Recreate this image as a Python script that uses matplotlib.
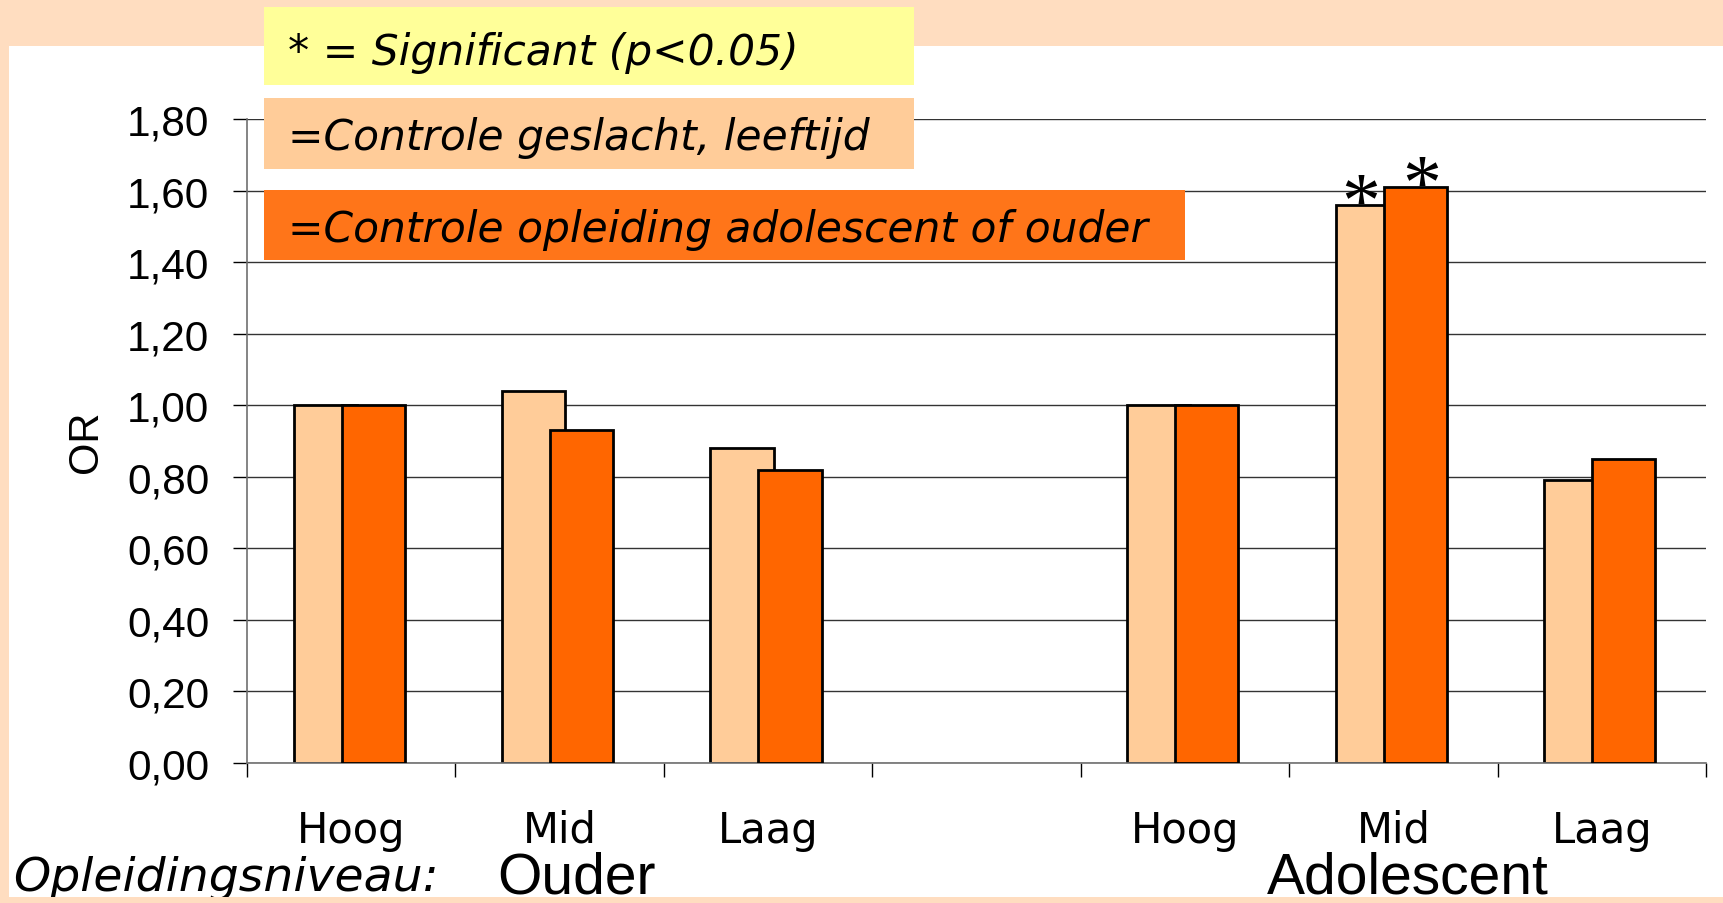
import numpy as np
import matplotlib.pyplot as plt
from matplotlib.patches import Rectangle

plt.rcParams['font.family'] = ['Liberation Sans', 'DejaVu Sans']

# Odds ratios per opleidingsniveau (Ouder: Hoog/Mid/Laag, Adolescent: Hoog/Mid/Laag)
levels = ['Hoog', 'Mid', 'Laag']
groups = ['Ouder', 'Adolescent']
or_sex_age = [1.00, 1.04, 0.88, 1.00, 1.56, 0.79]
or_education = [1.00, 0.93, 0.82, 1.00, 1.61, 0.85]
sig_sex_age = [False, False, False, False, True, False]
sig_education = [False, False, False, False, True, False]
slots = [0, 1, 2, 4, 5, 6]   # vak 3 blijft leeg tussen de groepen
yticks = [0.0, 0.2, 0.4, 0.6, 0.8, 1.0, 1.2, 1.4, 1.6, 1.8]

legend_texts = ['* = Significant (p<0.05)',
                '=Controle geslacht, leeftijd',
                '=Controle opleiding adolescent of ouder']

W, H = 1724, 904
PEACH = '#FFDDC0'
LIGHT = '#FFCC99'
DARK = '#FF6600'
WIDE = ['DejaVu Sans']   # breed lettertype, lijkt op Verdana


def fx(x):
    return x / W


def fy(y):
    return 1 - y / H


fig = plt.figure(figsize=(W / 100, H / 100), dpi=100, facecolor=PEACH)

# wit vlak van de dia
fig.add_artist(Rectangle((fx(9), fy(898)), 1 - fx(9), fy(47) - fy(898),
                         transform=fig.transFigure, facecolor='white',
                         edgecolor='none', zorder=-5))

ax = fig.add_axes([fx(247), fy(764), fx(1706) - fx(247), fy(120) - fy(764)])
ax.set_facecolor('white')

x = np.array(slots) + 0.5
bw = 0.303
ax.bar(x - 0.125, or_sex_age, width=bw, color=LIGHT, edgecolor='black',
       linewidth=2, zorder=2)
ax.bar(x + 0.105, or_education, width=bw, color=DARK, edgecolor='black',
       linewidth=2, zorder=3)

# sterretjes voor significantie
for xi, v, s in zip(x - 0.125, or_sex_age, sig_sex_age):
    if s:
        ax.text(xi - 0.03, v - 0.055, '*', family='Liberation Serif', fontsize=56,
                ha='center', va='baseline', zorder=5)
for xi, v, s in zip(x + 0.105, or_education, sig_education):
    if s:
        ax.text(xi + 0.03, v - 0.055, '*', family='Liberation Serif', fontsize=56,
                ha='center', va='baseline', zorder=5)

ax.set_xlim(0, 7)
ax.set_ylim(0, 1.8)
ax.set_yticks(yticks)
ax.set_yticklabels([f'{v:.2f}'.replace('.', ',') for v in yticks])
ax.set_xticks(x)
ax.set_xticklabels(levels * 2, family=WIDE)
ax.set_xticks(range(8), minor=True)
ax.tick_params(axis='x', which='major', length=0, pad=33, labelsize=30)
ax.tick_params(axis='x', which='minor', length=10, width=1, color='black')
ax.tick_params(axis='y', length=10, width=1, pad=17, labelsize=30.5)
ax.grid(axis='y', color='#333333', lw=1)
ax.set_axisbelow(True)
for side in ['top', 'right']:
    ax.spines[side].set_visible(False)
for side in ['left', 'bottom']:
    ax.spines[side].set_color('#707070')
    ax.spines[side].set_linewidth(1.2)

ax.set_ylabel('OR', fontsize=30, va='center')
ax.yaxis.set_label_coords((86 - 247) / (1706 - 247), 0.5)

# groepsnamen onder de as
tr = ax.get_xaxis_transform()
ya = (764 - 894) / (764 - 120)
ax.text(x[1] + 0.08, ya, groups[0], transform=tr, fontsize=41,
        ha='center', va='baseline', clip_on=False)
ax.text(x[4] + 0.07, ya, groups[1], transform=tr, fontsize=41,
        ha='center', va='baseline', clip_on=False)
fig.text(fx(13), fy(891), 'Opleidingsniveau:', fontsize=34, style='italic',
         family=WIDE, va='baseline')

# legenda-blokken
boxes = [(264, 8, 914, 86, '#FFFF99', 65),
         (264, 99, 914, 170, LIGHT, 150),
         (264, 191, 1185, 261, '#FF7519', 242)]
for (x0, y0, x1, y1, col, base), txt in zip(boxes, legend_texts):
    fig.add_artist(Rectangle((fx(x0), fy(y1)), fx(x1) - fx(x0), fy(y0) - fy(y1),
                             transform=fig.transFigure, facecolor=col,
                             edgecolor='none', zorder=4))
    fig.text(fx(288), fy(base), txt, fontsize=30.5, style='italic',
             family=WIDE, va='baseline', zorder=6)

# onderrand van de dia over de tekst heen
fig.add_artist(Rectangle((0, 0), 1, fy(898), transform=fig.transFigure,
                         facecolor=PEACH, edgecolor='none', zorder=10))

fig.savefig('out.png', dpi=100, facecolor=PEACH)
